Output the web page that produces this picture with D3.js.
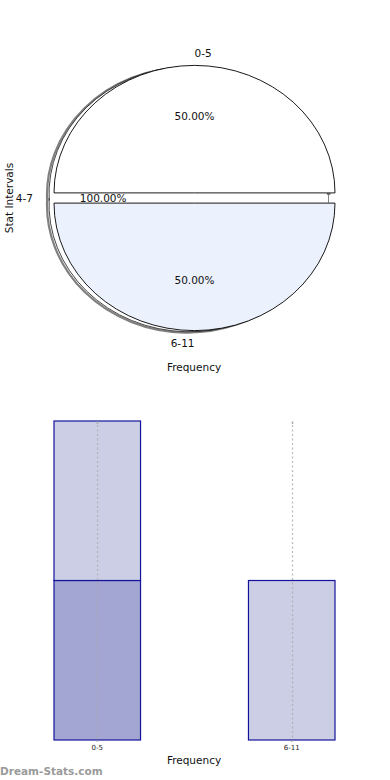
<!DOCTYPE html>
<html><head><meta charset="utf-8">
<script src="https://cdn.jsdelivr.net/npm/d3@7/dist/d3.min.js"></script>
<style>body{margin:0;background:#fff}svg{display:block;font-family:"DejaVu Sans",sans-serif}</style>
</head><body>
<script>
// ---- data ----
const pieCategories = ["0-5", "4-7", "6-11"];
const pieValues = [1, 0, 1];
const pieExplode = [0.04, 0.05, 0.04];
const piePctLabels = ["50.00%", "100.00%", "50.00%"];
const pieColors = ["#ffffff", "#ffffff", "#ebf1fd"];

const barCategories = ["0-5", "6-11"];
const barSeriesDark = [1, 0];
const barSeriesLight = [1, 1];
const barYMax = 2;

const W = 390, H = 780;
const svg = d3.select("body").append("svg").attr("width", W).attr("height", H);

// ---- pie ----
const cx = 194.5, cy = 198, rx = 140.5, ry = 127.5;
const pie = d3.pie().sort(null).startAngle(Math.PI / 2).endAngle(Math.PI / 2 - 2 * Math.PI);
const arcs = pie(pieValues);
const unitArc = d3.arc().innerRadius(0).outerRadius(1);
const mid = a => (a.startAngle + a.endAngle) / 2;
const off = (a, i, f) => {
  const m = mid(a);
  return [cx + Math.sin(m) * rx * f, cy - Math.cos(m) * ry * f];
};
// rim of a wedge; the side that meets the left gap is extended slightly so the shadow is continuous
const rimPath = a => {
  const p = d3.path();
  let t0 = a.startAngle - Math.PI / 2, t1 = a.endAngle - Math.PI / 2;
  const ext = 0.05;
  if (Math.abs(Math.cos(t1) + 1) < 1e-6) t1 -= ext;
  if (Math.abs(Math.cos(t0) + 1) < 1e-6) t0 += ext;
  p.arc(0, 0, 1, t0, t1, t1 < t0);
  return p.toString();
};

const gPie = svg.append("g");
// shadow rims
arcs.forEach((a, i) => {
  if (a.value === 0) return;
  const [ox, oy] = off(a, i, pieExplode[i]);
  gPie.append("path").attr("d", rimPath(a))
    .attr("transform", `translate(${ox - 7},${oy + 2}) scale(${rx},${ry})`)
    .attr("fill", "none").attr("stroke", "#808080").attr("stroke-width", 2.2)
    .attr("vector-effect", "non-scaling-stroke");
  gPie.append("path").attr("d", rimPath(a))
    .attr("transform", `translate(${ox - 5},${oy + 1.2}) scale(${rx},${ry})`)
    .attr("fill", "none").attr("stroke", "#333").attr("stroke-width", 0.9)
    .attr("vector-effect", "non-scaling-stroke");
});
arcs.forEach((a, i) => {
  if (a.value === 0) return;
  const [ox, oy] = off(a, i, pieExplode[i]);
  gPie.append("path").attr("d", unitArc(a))
    .attr("transform", `translate(${ox},${oy}) scale(${rx},${ry})`)
    .attr("fill", pieColors[i])
    .attr("stroke", "#000").attr("stroke-width", 0.9)
    .attr("vector-effect", "non-scaling-stroke");
});
// degenerate zero wedge marker on right side
{
  const t = off(arcs[0], 0, pieExplode[0]), b = off(arcs[2], 2, pieExplode[2]);
  gPie.append("path")
    .attr("d", `M${cx + rx - 6.5},${t[1] + 1} L${cx + rx - 6.5},${b[1]} M${cx + rx - 6.5},${t[1] + 1.5} L${cx + rx - 4.5},${t[1] + 1.5}`)
    .attr("stroke", "#666").attr("stroke-width", 0.8).attr("fill", "none");
}
// labels
arcs.forEach((a, i) => {
  const m = mid(a);
  const sx = Math.sin(m);
  const [lx, ly] = off(a, i, 1.1 + pieExplode[i]);
  gPie.append("text").attr("x", lx).attr("y", ly)
    .attr("text-anchor", sx >= 0 ? "start" : "end")
    .attr("dominant-baseline", "central")
    .attr("font-size", 10.5).attr("fill", "#111").text(pieCategories[i]);
  const [ox, oy] = off(a, i, pieExplode[i]);
  gPie.append("text").attr("x", ox + sx * rx * 0.6).attr("y", oy - Math.cos(m) * ry * 0.6)
    .attr("text-anchor", "middle").attr("dominant-baseline", "central")
    .attr("font-size", 10.5).attr("fill", "#111").text(piePctLabels[i]);
});
svg.append("text").attr("transform", `translate(13,${cy}) rotate(-90)`)
  .attr("text-anchor", "middle").attr("font-size", 10.5).attr("fill", "#111").text("Stat Intervals");
svg.append("text").attr("x", 194).attr("y", 367).attr("text-anchor", "middle")
  .attr("dominant-baseline", "central").attr("font-size", 10.5).attr("fill", "#111").text("Frequency");

// ---- bars ----
const x = d3.scaleBand().domain(barCategories).range([54, 335]).paddingInner(0.555).paddingOuter(0);
const y = d3.scaleLinear().domain([0, barYMax]).range([740, 421]);
const gBar = svg.append("g");
const stackData = barCategories.map((c, i) => ({ c, dark: barSeriesDark[i], light: barSeriesLight[i] }));
const series = d3.stack().keys(["dark", "light"])(stackData);
const fills = { dark: "#a3a5d3", light: "#cccee6" };
series.forEach(s => {
  gBar.selectAll(null).data(s.filter(d => d[1] > d[0])).join("rect")
    .attr("x", d => x(d.data.c)).attr("width", x.bandwidth())
    .attr("y", d => y(d[1])).attr("height", d => y(d[0]) - y(d[1]))
    .attr("fill", fills[s.key]).attr("stroke", "#14149a").attr("stroke-width", 1.2);
});
// dotted grid lines
barCategories.forEach(c => {
  const xc = Math.round(x(c) + x.bandwidth() / 2) + 0.5;
  gBar.append("line").attr("x1", xc).attr("x2", xc).attr("y1", y(barYMax) + 4).attr("y2", y(0))
    .attr("stroke", "#aaa").attr("stroke-opacity", 0.8).attr("stroke-width", 1.2).attr("stroke-dasharray", "2,2.5");
  gBar.append("line").attr("x1", xc).attr("x2", xc).attr("y1", y(barYMax) + 0.5).attr("y2", y(barYMax) + 3)
    .attr("stroke", "#aaa").attr("stroke-width", 1.5);
});
// x axis labels
const ax = svg.append("g").attr("transform", `translate(0,${y(0)})`)
  .call(d3.axisBottom(x).tickSize(2).tickPadding(3));
ax.select(".domain").remove();
ax.selectAll(".tick line").attr("stroke", "#999");
ax.selectAll(".tick text").attr("font-size", 7).attr("fill", "#222").attr("font-family", "DejaVu Sans");
svg.append("text").attr("x", 194).attr("y", 760).attr("text-anchor", "middle")
  .attr("dominant-baseline", "central").attr("font-size", 10.5).attr("fill", "#111").text("Frequency");
svg.append("text").attr("x", 0).attr("y", 775).attr("font-size", 10.5).attr("font-weight", "bold")
  .attr("fill", "#9a9a9a").attr("font-family", "DejaVu Sans").text("Dream-Stats.com");
</script>
</body></html>
